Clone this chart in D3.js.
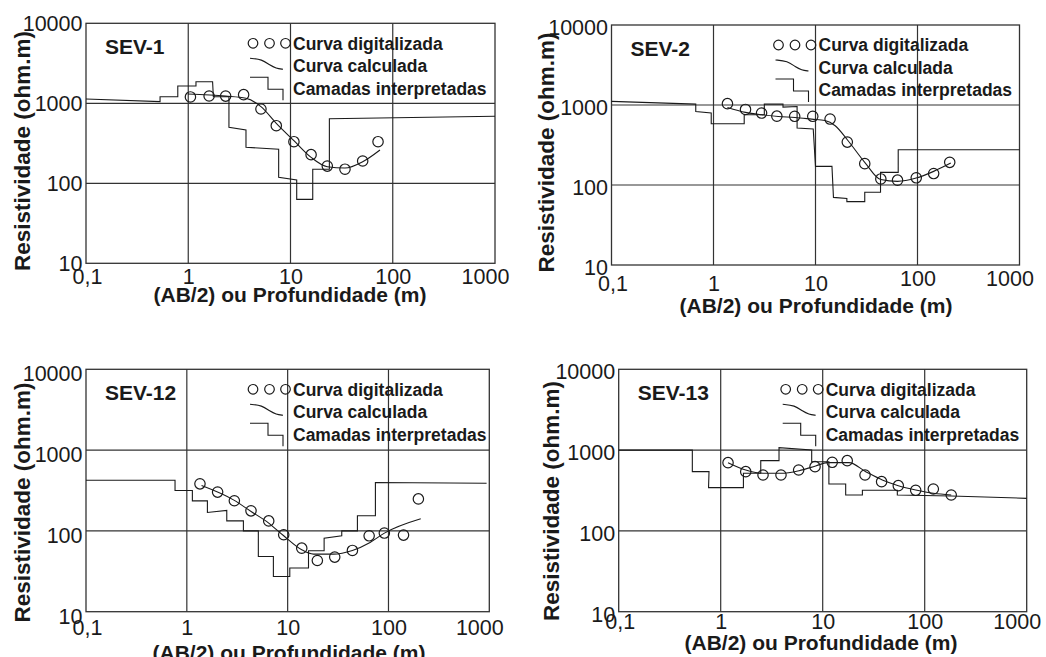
<!DOCTYPE html>
<html>
<head>
<meta charset="utf-8">
<script src="https://cdn.jsdelivr.net/npm/d3@7"></script>
<style>
  body { margin: 0; background: #fff; }
  svg { display: block; font-family: "Liberation Sans", Arial, sans-serif; }
</style>
</head>
<body>
<svg id="chart" width="1046" height="657"></svg>
<script>
// Axis ticks and labels (Brazilian decimal comma)
const xTickValues = [0.1, 1, 10, 100, 1000];
const xTickLabels = ["0,1", "1", "10", "100", "1000"];
const yTickValues = [10, 100, 1000, 10000];
const yTickLabels = ["10", "100", "1000", "10000"];
const xGridValues = [1, 10, 100];
const yGridValues = [100, 1000];
const legendLabels = ["Curva digitalizada", "Curva calculada", "Camadas interpretadas"];
const xTitle = "(AB/2) ou Profundidade (m)";
const yTitle = "Resistividade (ohm.m)";

// SEV-1 : field points [AB/2, rho_a], model curve, interpreted layers [depth, rho]
const sev1Field = [[1.05,1200],[1.6,1233],[2.32,1230],[3.48,1282],[5.14,849],[7.26,525],[10.8,331],[15.9,228],[22.9,164],[34.1,150],[50.8,190],[71.8,331]];
const sev1Model = [[0.99,1306],[2.32,1230],[3.67,1155],[5.14,907],[7.26,562],[10.8,341],[15.9,211],[22.9,161],[34.1,155],[50.8,186],[75,261]];
const sev1Layers = [[0.1,1132],[0.53,1048],[0.53,1210],[0.79,1210],[0.79,1645],[1.19,1645],[1.19,1863],[1.73,1863],[1.76,1209],[2.5,1209],[2.5,501],[3.67,464],[3.67,282],[7.66,266],[7.66,119],[11.5,110],[11.5,63],[16.5,63],[16.5,150],[24,150],[24,640],[1000,690]];

// SEV-2
const sev2Field = [[1.37,1040],[2.06,880],[2.96,793],[4.18,725],[6.25,722],[9.4,722],[13.9,667],[20.5,344],[30.4,185],[43.7,119],[63.7,115],[97.2,123],[144,139],[207,192]];
const sev2Model = [[1.37,931],[2.06,808],[2.96,755],[4.32,719],[6.3,698],[9.2,666],[12.4,641],[15.6,550],[20.5,368],[30.8,188],[43.6,117],[63.7,111],[97,122],[144,148],[212,188]];
const sev2Layers = [[0.1,1110],[0.67,1026],[0.67,830],[0.95,793],[0.95,583],[2.0,583],[2.0,755],[3.15,755],[3.15,1026],[4.8,1026],[4.8,940],[6.6,958],[6.6,515],[9.5,501],[10.0,171],[14.5,171],[15.0,70],[20.3,68],[20.3,62],[30.4,62],[30.4,81],[43.4,81],[43.4,144],[64.7,144],[64.7,276],[1000,276]];

// SEV-12
const sev12Field = [[1.35,382],[2.02,302],[2.96,236],[4.33,177],[6.49,133],[9.14,89.6],[13.8,61.2],[19.7,43],[29.3,47.4],[43.9,57.3],[64.3,87],[91,94],[141,88.7],[198,249]];
const sev12Model = [[1.4,364],[2.9,242],[4.34,174],[6.49,125],[9.14,87],[13.8,58.4],[18,51.6],[28.4,51.6],[43.9,57.3],[65.7,72],[91.2,93.8],[209,141]];
const sev12Layers = [[0.1,424],[0.764,424],[0.764,316],[1.135,316],[1.135,235],[1.6,235],[1.6,169],[2.49,179],[2.49,133],[3.64,133],[3.64,100],[5.12,100],[5.12,48.3],[7.22,48.3],[7.22,27.3],[10.5,27.3],[10.5,34.7],[16.1,34.7],[16.1,56.7],[23,56.7],[23,81.4],[34.4,87],[34.4,100],[49.2,100],[49.2,154],[74.2,154],[74.2,397],[940,389]];

// SEV-13
const sev13Field = [[1.18,699],[1.76,541],[2.6,492],[3.9,492],[5.81,567],[8.41,624],[12.4,706],[17.4,740],[26,492],[37.8,407],[55.1,363],[81.6,318],[121.5,330],[182,278]];
const sev13Model = [[1.18,699],[1.76,567],[2.6,516],[3.9,516],[5.86,556],[8.53,636],[11.1,699],[18.1,699],[26.4,541],[38.4,427],[55.1,363],[81.6,321],[121.5,292],[182,278]];
const sev13Layers = [[0.1,1000],[0.527,1000],[0.527,541],[0.768,541],[0.76,343],[1.67,343],[1.67,516],[2.47,516],[2.47,740],[3.73,740],[3.73,1072],[7.8,1003],[7.8,719],[11.5,719],[11.5,380],[16.8,380],[16.8,278],[24.5,278],[24.5,318],[53.9,318],[53.9,278],[182,270],[1000,253]];

// Placement of each sounding's frame and its labels
const panels = [
  { name: "SEV-1",  field: sev1Field,  model: sev1Model,  layers: sev1Layers,
    left: 86, right: 495, top: 23.3, bottom: 263.3,
    tickBase: 284, tickLowBase: 284, titleBase: 302, titleX: 290,
    yTitleX: 29.5, yTitleY: 151, yLabelDy: 0 },
  { name: "SEV-2",  field: sev2Field,  model: sev2Model,  layers: sev2Layers,
    left: 611.5, right: 1019.5, top: 25, bottom: 265,
    tickBase: 286, tickLowBase: 291, titleBase: 313, titleX: 816,
    yTitleX: 553.5, yTitleY: 152.5, yLabelDy: 2 },
  { name: "SEV-12", field: sev12Field, model: sev12Model, layers: sev12Layers,
    left: 86, right: 489.3, top: 369.3, bottom: 611.7,
    tickBase: 635, tickLowBase: 635, titleBase: 660, titleX: 289,
    yTitleX: 30, yTitleY: 502.5, yLabelDy: 4 },
  { name: "SEV-13", field: sev13Field, model: sev13Model, layers: sev13Layers,
    left: 618.7, right: 1026.7, top: 369.3, bottom: 611.7,
    tickBase: 629, tickLowBase: 629, titleBase: 650, titleX: 821,
    yTitleX: 559.3, yTitleY: 501, yLabelDy: 2 }
];

const ink = "#1a1a1a";
const gridInk = "#333";
const svg = d3.select("#chart");

panels.forEach(p => {
  const x = d3.scaleLog().domain([0.1, 1000]).range([p.left, p.right]);
  const y = d3.scaleLog().domain([10, 10000]).range([p.bottom, p.top]);
  const g = svg.append("g");

  // grid at the decades
  g.selectAll(".vgrid").data(xGridValues).join("line")
    .attr("x1", d => x(d)).attr("x2", d => x(d))
    .attr("y1", p.top).attr("y2", p.bottom)
    .attr("stroke", gridInk).attr("stroke-width", 1.2);
  g.selectAll(".hgrid").data(yGridValues).join("line")
    .attr("x1", p.left).attr("x2", p.right)
    .attr("y1", d => y(d)).attr("y2", d => y(d))
    .attr("stroke", gridInk).attr("stroke-width", 1.2);

  // frame
  g.append("rect")
    .attr("x", p.left).attr("y", p.top)
    .attr("width", p.right - p.left).attr("height", p.bottom - p.top)
    .attr("fill", "none").attr("stroke", gridInk).attr("stroke-width", 1.3);

  // x axis labels
  const xAxis = g.append("g")
    .attr("transform", `translate(0,${p.bottom})`)
    .call(d3.axisBottom(x).tickValues(xTickValues)
      .tickFormat((d, i) => xTickLabels[i]).tickSize(0).tickPadding(4));
  xAxis.select(".domain").remove();
  xAxis.selectAll("text")
    .attr("dy", null)
    .attr("y", d => ((d === 0.1 || d === 1 || d === 10) ? p.tickLowBase : p.tickBase) - p.bottom)
    .attr("dx", d => d === 1000 ? -10 : (d === 0.1 ? 1 : 0))
    .attr("fill", ink)
    .style("font-size", "21.5px")
    .style("font-family", "'Liberation Sans', Arial, sans-serif");

  // y axis labels
  const yAxis = g.append("g")
    .attr("transform", `translate(${p.left},0)`)
    .call(d3.axisLeft(y).tickValues(yTickValues)
      .tickFormat((d, i) => yTickLabels[i]).tickSize(0).tickPadding(3.5));
  yAxis.select(".domain").remove();
  yAxis.selectAll("text")
    .attr("dy", "0.34em")
    .attr("y", p.yLabelDy)
    .attr("fill", ink)
    .style("font-size", "21.5px")
    .style("font-family", "'Liberation Sans', Arial, sans-serif");

  // axis titles
  g.append("text")
    .attr("x", p.titleX).attr("y", p.titleBase)
    .attr("text-anchor", "middle")
    .attr("fill", ink)
    .style("font-size", "21px").style("font-weight", "bold")
    .text(xTitle);
  g.append("text")
    .attr("transform", `translate(${p.yTitleX},${p.yTitleY}) rotate(-90)`)
    .attr("text-anchor", "middle")
    .attr("fill", ink)
    .style("font-size", "22.5px").style("font-weight", "bold")
    .text(yTitle);

  // sounding name
  g.append("text")
    .attr("x", p.left + 19).attr("y", p.top + 31)
    .attr("fill", ink)
    .style("font-size", "21px").style("font-weight", "bold")
    .text(p.name);

  // interpreted layers (step profile)
  const line = d3.line().x(d => x(d[0])).y(d => y(d[1]));
  g.append("path").datum(p.layers)
    .attr("d", line)
    .attr("fill", "none").attr("stroke", ink).attr("stroke-width", 1.1);

  // calculated curve
  g.append("path").datum(p.model)
    .attr("d", d3.line().x(d => x(d[0])).y(d => y(d[1])).curve(d3.curveMonotoneX))
    .attr("fill", "none").attr("stroke", ink).attr("stroke-width", 1.1);

  g.selectAll(".pt").data(p.field).join("circle")
    .attr("cx", d => x(d[0])).attr("cy", d => y(d[1]))
    .attr("r", 5.2)
    .attr("fill", "none").attr("stroke", ink).attr("stroke-width", 1.2);

  // legend
  const lg = g.append("g").attr("transform", `translate(${p.left},${p.top})`);
  lg.selectAll(".lc").data([167, 183.5, 199.5]).join("circle")
    .attr("cx", d => d).attr("cy", 20).attr("r", 4.8)
    .attr("fill", "none").attr("stroke", ink).attr("stroke-width", 1.2);
  const curveShape = [[0, 0], [12, 1], [20, 7], [26, 10], [33, 11]];
  lg.append("path").datum(curveShape)
    .attr("transform", "translate(164,35)")
    .attr("d", d3.line().curve(d3.curveBasis))
    .attr("fill", "none").attr("stroke", ink).attr("stroke-width", 1.1);
  const stepShape = [[0, 0], [18, 0], [18, 12], [33, 12], [33, 23]];
  lg.append("path").datum(stepShape)
    .attr("transform", "translate(164,54)")
    .attr("d", d3.line())
    .attr("fill", "none").attr("stroke", ink).attr("stroke-width", 1.1);
  lg.selectAll(".lt").data(legendLabels).join("text")
    .attr("x", 207).attr("y", (d, i) => 20 + i * 22.5 + 6.3)
    .attr("fill", ink)
    .style("font-size", "17.5px").style("font-weight", "bold")
    .text(d => d);
});
</script>
</body>
</html>
